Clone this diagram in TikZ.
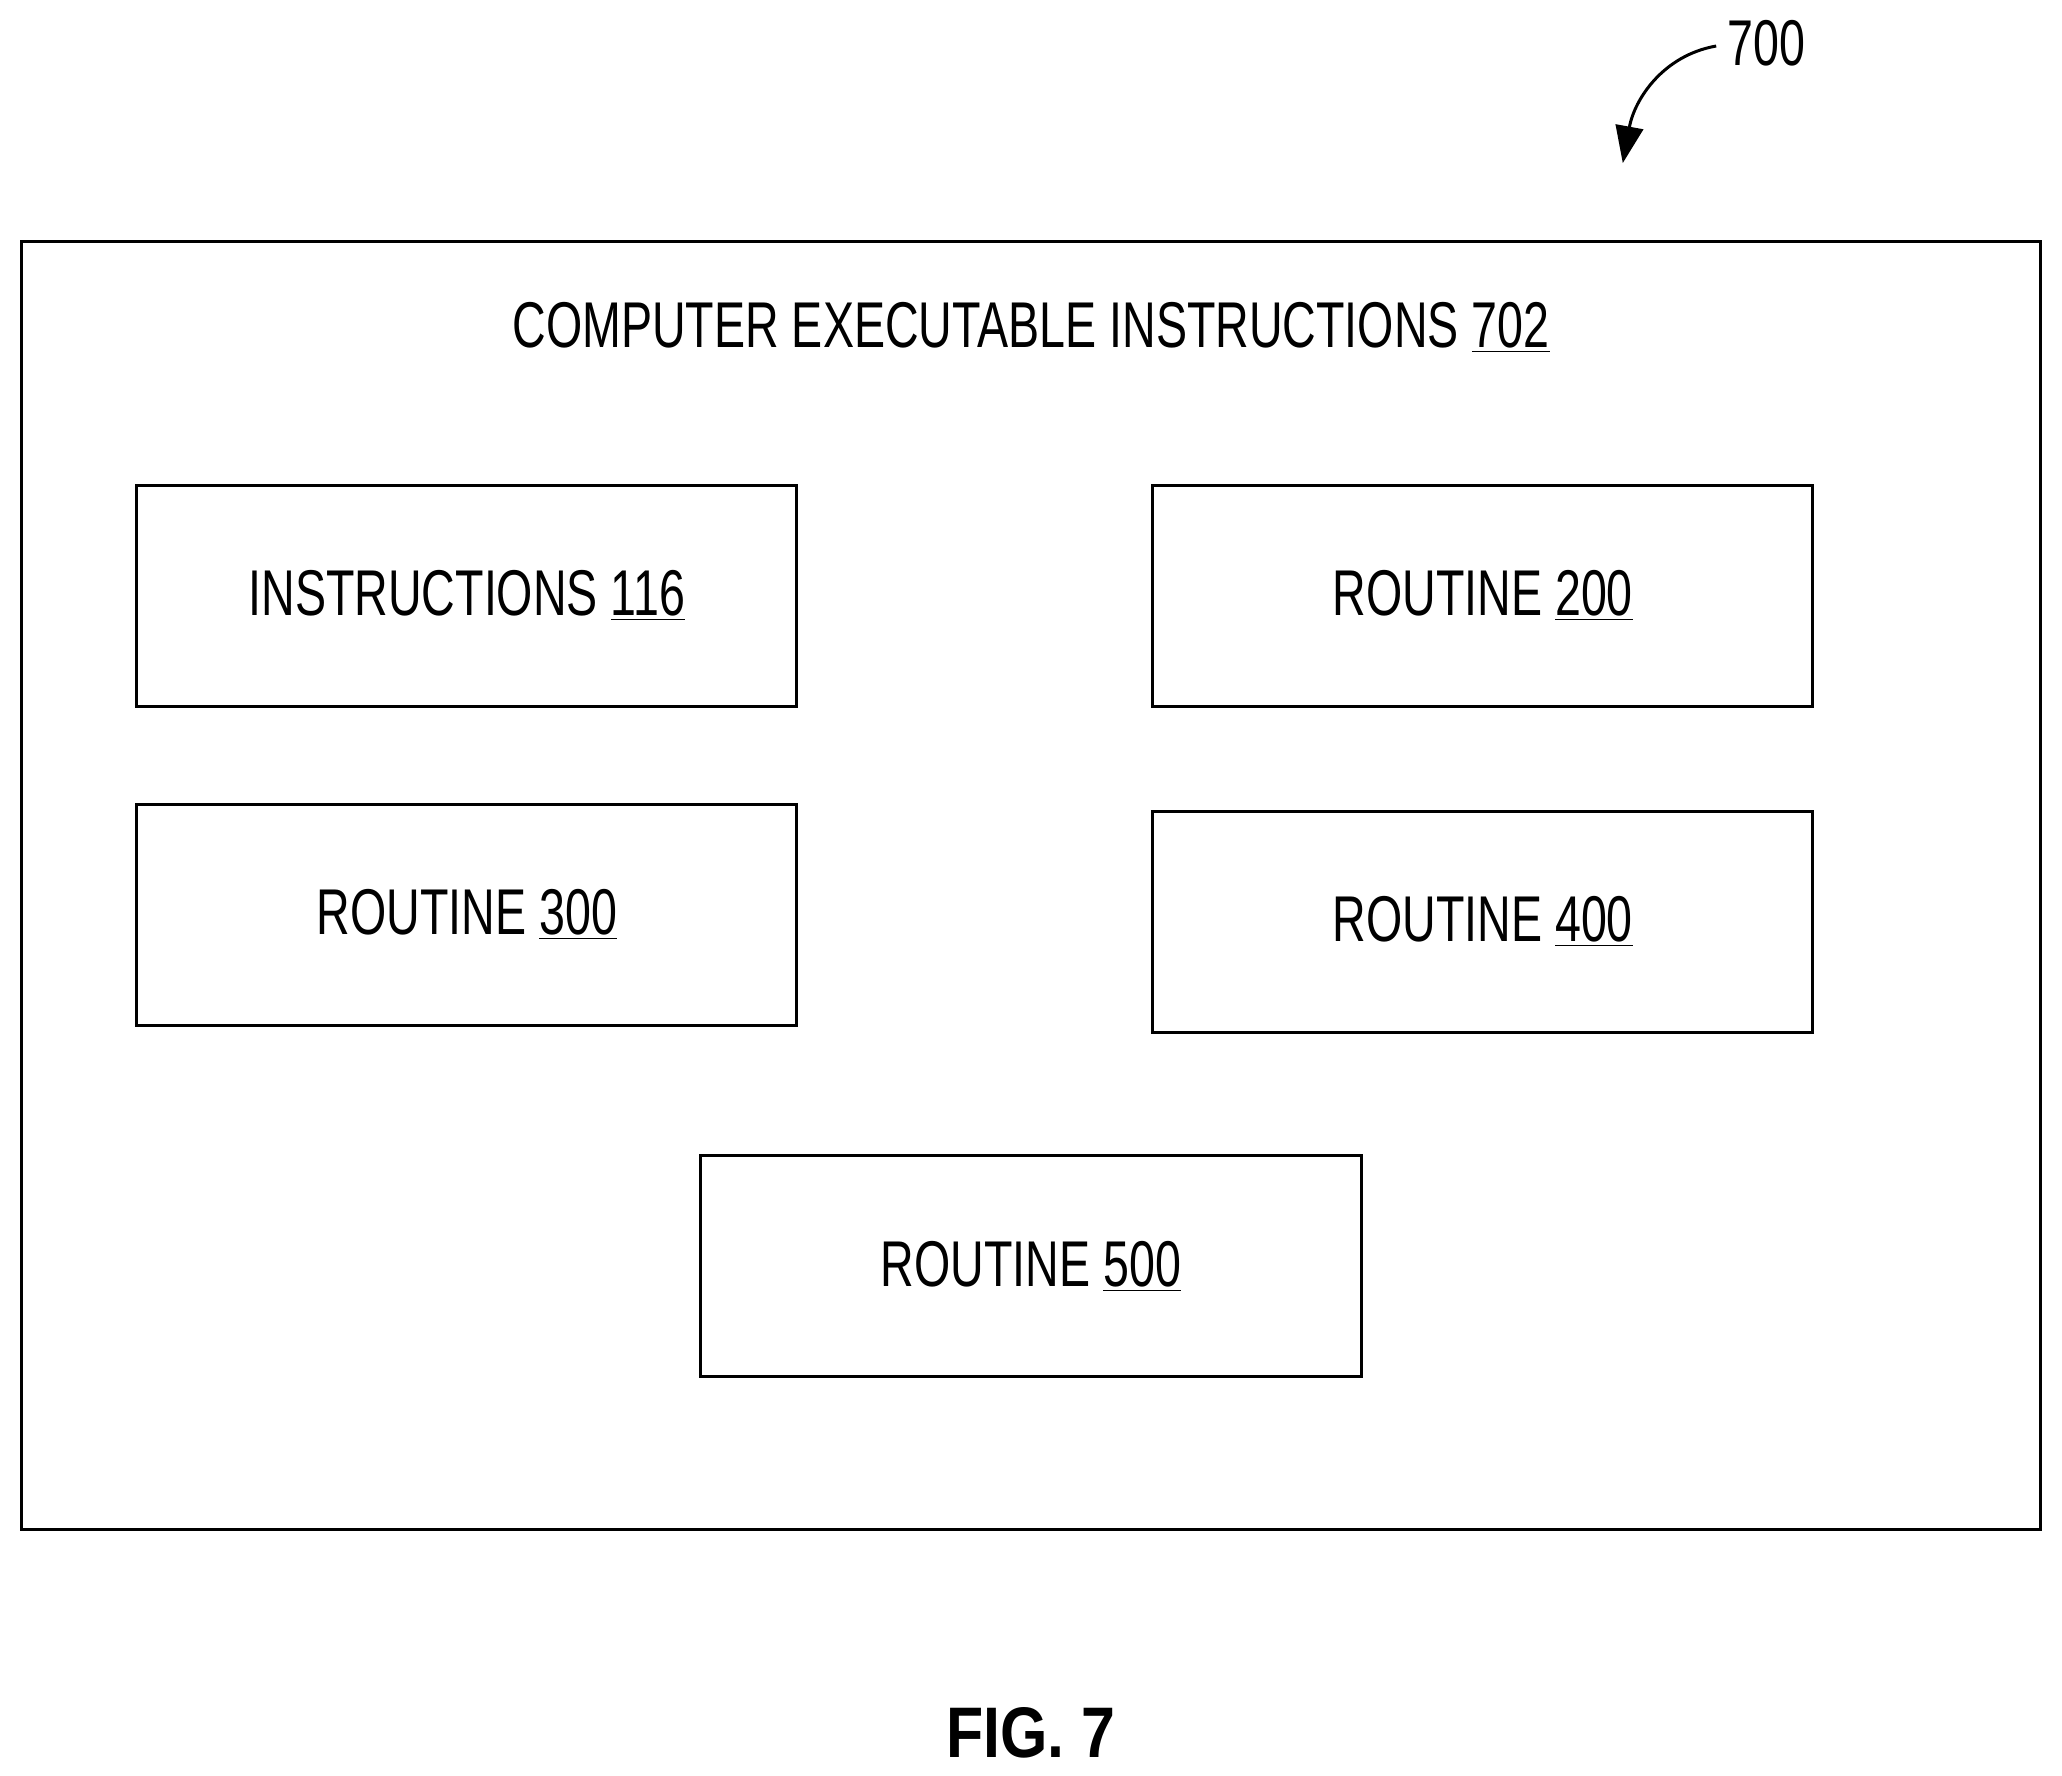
\documentclass[tikz,border=0pt]{standalone}
\usepackage{fontspec}
\setmainfont{Liberation Sans}[FakeStretch=0.72]
\newfontfamily\figfont{Liberation Sans}[FakeStretch=0.85]
\usetikzlibrary{arrows.meta}
\begin{document}
\begin{tikzpicture}[x=0.02cm,y=-0.02cm,
  box/.style={draw,line width=1.3pt,minimum width=502*0.02cm,minimum height=168*0.02cm,inner sep=0},
  lbl/.style={font=\fontsize{28}{30}\selectfont}]
\useasboundingbox (0,0) rectangle (1568,1350);
\draw[line width=1.3pt] (16,184) rectangle (1552,1163);
\node[lbl] (title) at (784,249) {COMPUTER EXECUTABLE INSTRUCTIONS \underline{702}};
\node[box,lbl] (b116) at (355,453) {INSTRUCTIONS \underline{116}};
\node[box,lbl] (b200) at (1127.5,453) {ROUTINE \underline{200}};
\node[box,lbl] (b300) at (355,695.5) {ROUTINE \underline{300}};
\node[box,lbl] (b400) at (1127.5,701) {ROUTINE \underline{400}};
\node[box,lbl] (b500) at (784,963) {ROUTINE \underline{500}};
\node[lbl] (n700) at (1343,33) {700};
\coordinate (tip) at (1234,124);
\draw[line width=1.3pt,-{Triangle[length=16pt,width=12pt]}] (1305,35) .. controls (1265,42) and (1243,75) .. (tip);
\node[font=\figfont\bfseries\fontsize{31}{33}\selectfont] (fig) at (784,1318) {FIG. 7};
\end{tikzpicture}
\end{document}
